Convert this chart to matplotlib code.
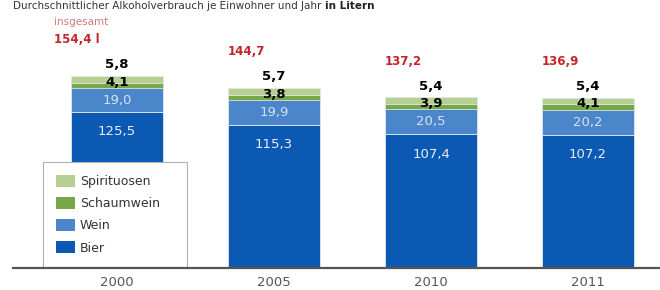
import matplotlib
matplotlib.use("Agg")
import matplotlib.pyplot as plt
from matplotlib.patches import Patch

years = ["2000", "2005", "2010", "2011"]
bier = [125.5, 115.3, 107.4, 107.2]
wein = [19.0, 19.9, 20.5, 20.2]
schaumwein = [4.1, 3.8, 3.9, 4.1]
spirituosen = [5.8, 5.7, 5.4, 5.4]
totals = [154.4, 144.7, 137.2, 136.9]
total_labels = ["154,4 l", "144,7", "137,2", "136,9"]

def de(v):
    return f"{v:.1f}".replace(".", ",")

c_bier = "#0c59b4"
c_wein = "#4b86cb"
c_schaum = "#77a746"
c_spirit = "#b7cf91"

plt.rcParams['font.family'] = ['DejaVu Sans']
fig = plt.figure(figsize=(6.6, 2.9), dpi=100)
fig.patch.set_facecolor("white")
ax = fig.add_axes([13/660, 22/290, 647/660, 268/290])
ax.set_xlim(-(117-13)/157, (660-117)/157)
ax.set_ylim(0, 268/1.244)

x = list(range(len(years)))
w = 0.586
ec = "#dfe9f5"
ax.bar(x, bier, w, color=c_bier, edgecolor=ec, linewidth=0.6, zorder=2)
ax.bar(x, wein, w, bottom=bier, color=c_wein, edgecolor=ec, linewidth=0.6, zorder=2)
b3 = [b + v for b, v in zip(bier, wein)]
ax.bar(x, schaumwein, w, bottom=b3, color=c_schaum, edgecolor=ec, linewidth=0.4, zorder=2)
b4 = [b + v for b, v in zip(b3, schaumwein)]
ax.bar(x, spirituosen, w, bottom=b4, color=c_spirit, edgecolor=ec, linewidth=0.4, zorder=2)

for i in x:
    top = b4[i] + spirituosen[i]
    ax.text(i, bier[i] - 16, de(bier[i]), ha="center", va="center",
            color="#e6eef8", fontsize=9.5, zorder=4)
    ax.text(i, bier[i] + wein[i] / 2, de(wein[i]), ha="center", va="center",
            color="#d2e1f3", fontsize=9.5, zorder=4)
    ax.text(i, top - 5, de(schaumwein[i]), ha="center", va="center",
            color="black", fontsize=9.5, fontweight="bold", zorder=4)
    ax.text(i, top + 9, de(spirituosen[i]), ha="center", va="center",
            color="black", fontsize=9.5, fontweight="bold", zorder=4)
    xl = i - w / 2 - (0.11 if i == 0 else 0)
    ax.text(xl, totals[i] + 29, total_labels[i], ha="left", va="center",
            color="#c0262c", fontsize=8.5, fontweight="bold", zorder=4)

ax.text(-w / 2 - 0.11, totals[0] + 43, "insgesamt", ha="left", va="center",
        color="#d27a7a", fontsize=7.5, zorder=4)

for s in ["top", "left", "right"]:
    ax.spines[s].set_visible(False)
ax.spines["bottom"].set_color("#555555")
ax.spines["bottom"].set_linewidth(1.6)
ax.spines["bottom"].set_zorder(5)
ax.set_yticks([])
ax.set_xticks(x)
ax.set_xticklabels(years, color="#555555", fontsize=9.5)
ax.tick_params(axis="x", length=0, pad=5.5)

handles = [Patch(facecolor=c_spirit, label="Spirituosen"),
           Patch(facecolor=c_schaum, label="Schaumwein"),
           Patch(facecolor=c_wein, label="Wein"),
           Patch(facecolor=c_bier, label="Bier")]
leg = ax.legend(handles=handles, loc="lower left",
                bbox_to_anchor=(43/660, 23/290, 144/660, 104/290),
                bbox_transform=fig.transFigure, mode="expand",
                borderaxespad=0, fontsize=9, frameon=True, fancybox=False,
                handlelength=1.55, handleheight=1.1, handletextpad=0.4,
                labelspacing=0.72, borderpad=1.0, labelcolor="#333333")
leg.get_frame().set_edgecolor("#b0b0b0")
leg.get_frame().set_linewidth(0.8)
leg.get_frame().set_facecolor("white")
leg.get_frame().set_alpha(1)
leg.set_zorder(3)

t1 = fig.text(13/660, 1 - 9/290, "Durchschnittlicher Alkoholverbrauch je Einwohner und Jahr ",
              ha="left", va="baseline", fontsize=7.5, color="#333333")
ax.annotate("in Litern", xy=(1, 0), xycoords=t1, ha="left", va="bottom",
            fontsize=7.5, fontweight="bold", color="#222222", annotation_clip=False)

fig.savefig("out.png", dpi=100, facecolor="white")
